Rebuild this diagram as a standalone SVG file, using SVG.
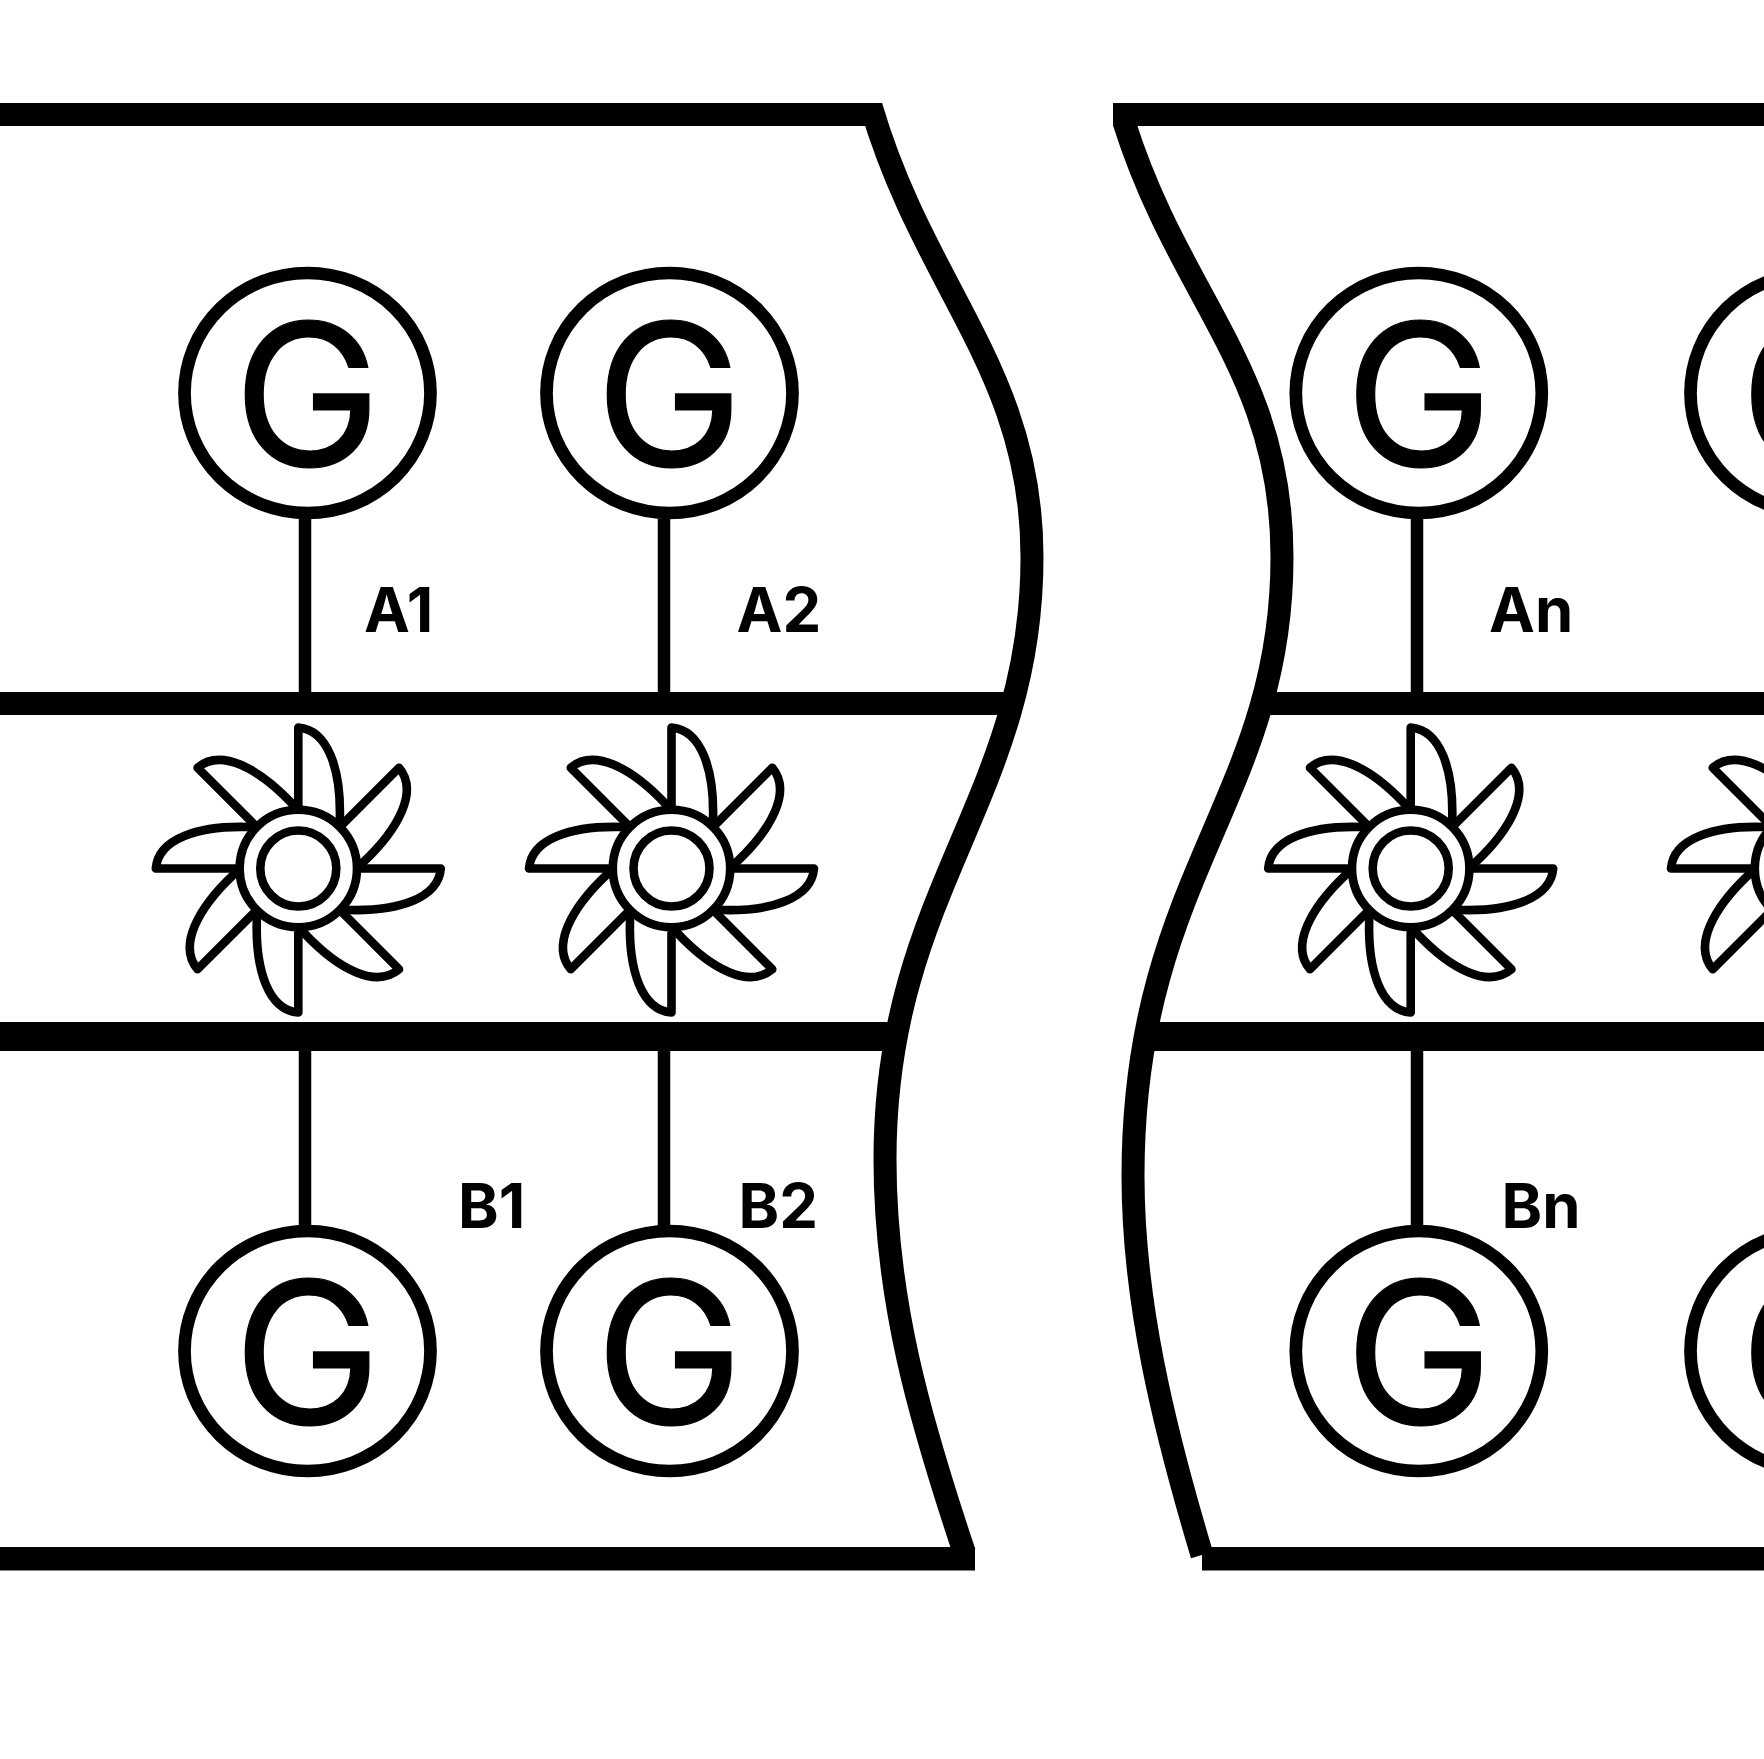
<svg xmlns="http://www.w3.org/2000/svg" width="1764" height="1759" viewBox="0 0 1764 1759">
<style>
.bar{fill:#000}
.wall{fill:none;stroke:#000;stroke-width:23}
.ring{fill:#fff;stroke:#000;stroke-width:12.7}
.stem{stroke:#000;stroke-width:12.5;fill:none}
.blade{fill:none;stroke:#000;stroke-width:8.6;stroke-linecap:round;stroke-linejoin:round}
.hub{fill:none;stroke:#000;stroke-width:8.6}
.g{font-family:"Inter","Liberation Sans",Arial,sans-serif;font-size:198px;font-weight:400;fill:#000;stroke:#000;stroke-width:1.2}
.lab{font-family:"Inter","Liberation Sans",Arial,sans-serif;font-size:61.5px;font-weight:bold;fill:#000}
</style>
<defs>
<path id="blade" class="blade" d="M0,-63 L0,-142.5 C30,-140 43,-100 41.5,-50"/>
<g id="fan">
<use href="#blade" transform="translate(0,1.5)"/><use href="#blade" transform="rotate(45)"/><use href="#blade" transform="rotate(90)"/><use href="#blade" transform="rotate(135)"/><use href="#blade" transform="translate(0,1.5) rotate(180)"/><use href="#blade" transform="rotate(225)"/><use href="#blade" transform="rotate(270)"/><use href="#blade" transform="rotate(315)"/>
<circle class="hub" r="58.7"/><circle class="hub" r="38"/>
</g>
<g id="gen"><ellipse class="ring" rx="123" ry="120"/></g>
</defs>
<rect width="1764" height="1759" fill="#fff"/>
<g id="connectors">
<path class="stem" d="M305,519V692M664,519V692M1417,519V692M305,1050V1226M664,1050V1226M1417,1050V1226"/>
</g>
<g id="housing-left">
<rect class="bar" x="0" y="103" width="881" height="23"/>
<rect class="bar" x="0" y="692" width="1010" height="23"/>
<rect class="bar" x="0" y="1022" width="893" height="29"/>
<rect class="bar" x="0" y="1547" width="975" height="23.5"/>
<path class="wall" d="M871,106 C925,290 1032,370 1032,557 C1032,800 885,890 885,1159 C885,1300 920,1420 964.5,1553"/>
</g>
<g id="housing-right">
<rect class="bar" x="1113" y="103" width="651" height="23"/>
<rect class="bar" x="1265" y="692" width="499" height="23"/>
<rect class="bar" x="1150" y="1022" width="614" height="29"/>
<rect class="bar" x="1202" y="1547" width="562" height="23.5"/>
<path class="wall" d="M1124,122 C1180,300 1282,370 1282,557 C1282,800 1133,876 1133,1176 C1133,1300 1163,1425 1202,1555"/>
</g>
<g id="gen-a1"><use href="#gen" x="307.5" y="393"/><text class="g" x="233.5" y="466">G</text></g>
<g id="gen-a2"><use href="#gen" x="669.5" y="393"/><text class="g" x="595.5" y="466">G</text></g>
<g id="gen-an"><use href="#gen" x="1418.8" y="393"/><text class="g" x="1345" y="466">G</text></g>
<g id="gen-a4"><use href="#gen" x="1813.5" y="393"/><text class="g" x="1740" y="466">G</text></g>
<g id="gen-b1"><use href="#gen" x="307.5" y="1351"/><text class="g" x="233.5" y="1424">G</text></g>
<g id="gen-b2"><use href="#gen" x="669.5" y="1351"/><text class="g" x="595.5" y="1424">G</text></g>
<g id="gen-bn"><use href="#gen" x="1418.8" y="1351"/><text class="g" x="1345" y="1424">G</text></g>
<g id="gen-b4"><use href="#gen" x="1813.5" y="1351"/><text class="g" x="1740" y="1424">G</text></g>
<g id="fan-1"><use href="#fan" x="298.3" y="868.5"/></g>
<g id="fan-2"><use href="#fan" x="671.5" y="868.5"/></g>
<g id="fan-3"><use href="#fan" x="1410.7" y="868.5"/></g>
<g id="fan-4"><use href="#fan" x="1813.5" y="868.5"/></g>
<g id="labels">
<text class="lab" x="364" y="632">A1</text>
<text class="lab" x="736.5" y="632">A2</text>
<text class="lab" x="1489" y="632">An</text>
<text class="lab" x="458" y="1227.5">B1</text>
<text class="lab" x="738.5" y="1227.5">B2</text>
<text class="lab" x="1501.5" y="1227.5">Bn</text>
</g>
</svg>
